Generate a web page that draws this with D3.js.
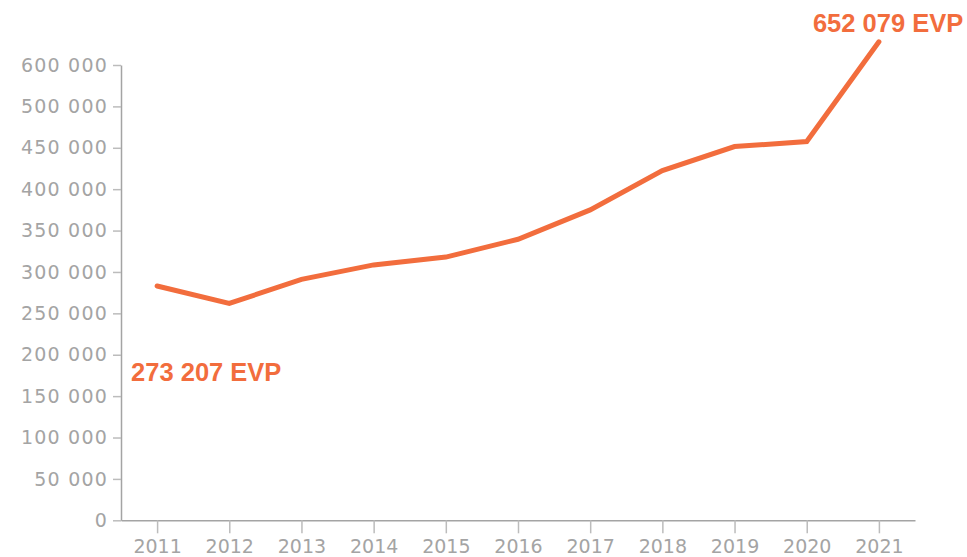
<!DOCTYPE html>
<html>
<head>
<meta charset="utf-8">
<script src="https://cdn.jsdelivr.net/npm/d3@7"></script>
<style>
  body { margin: 0; background: #fff; }
  .tick text { font-family: "DejaVu Sans", sans-serif; fill: #a4a4a4; }
  .evp { font-family: "Liberation Sans", Arial, sans-serif; font-weight: bold; fill: #f26d3d; }
</style>
</head>
<body>
<svg id="chart" width="967" height="557"></svg>
<script>
var years = ['2011','2012','2013','2014','2015','2016','2017','2018','2019','2020','2021'];
var evp = [283000, 262000, 291000, 308500, 318000, 339500, 375000, 422500, 451500, 457500, 578000];
var yTicks = [0, 50000, 100000, 150000, 200000, 250000, 300000, 350000, 400000, 450000, 500000, 550000];
var yTickLabels = ['0','50 000','100 000','150 000','200 000','250 000','300 000','350 000','400 000','450 000','500 000','600 000'];
var callouts = [
  {i: 0, text: '273 207 EVP'},
  {i: 10, text: '652 079 EVP'}
];

var svg = d3.select('#chart');
var plotLeft = 121, plotRight = 915, plotTop = 65, plotBottom = 520.3;
var orange = '#f26d3d', grey = '#a4a4a4';

var x = d3.scalePoint().domain(years).range([plotLeft, plotRight]).padding(0.5);
var y = d3.scaleLinear().domain([0, 550000]).range([plotBottom, plotTop]);

// axes
var yAxis = svg.append('g')
  .attr('transform', 'translate(' + plotLeft + ',0)')
  .call(d3.axisLeft(y).tickValues(yTicks).tickSize(8).tickSizeOuter(0).tickPadding(5)
    .tickFormat(function(d, i) { return yTickLabels[i]; }));
yAxis.selectAll('.tick text').attr('font-size', 19).attr('letter-spacing', '1.2px');

var xAxis = svg.append('g')
  .attr('transform', 'translate(0,' + plotBottom + ')')
  .call(d3.axisBottom(x).tickSize(13).tickSizeOuter(0).tickPadding(6));
xAxis.selectAll('.tick text').attr('font-size', 19);

svg.selectAll('.domain').attr('stroke', grey).attr('stroke-width', 1.5);
svg.selectAll('.tick line').attr('stroke', '#bcbcbc').attr('stroke-width', 1.5);

// line
var line = d3.line()
  .x(function(d, i) { return x(years[i]); })
  .y(function(d) { return y(d); });

svg.append('path')
  .datum(evp)
  .attr('d', line)
  .attr('fill', 'none')
  .attr('stroke', orange)
  .attr('stroke-width', 5)
  .attr('stroke-linecap', 'round')
  .attr('stroke-linejoin', 'miter');

// callout labels
var labelPos = [{dx: -26, y: 381}, {dx: -66, y: 32}];
svg.selectAll('text.evp')
  .data(callouts)
  .enter().append('text')
  .attr('class', 'evp')
  .attr('x', function(d, k) { return x(years[d.i]) + labelPos[k].dx; })
  .attr('y', function(d, k) { return labelPos[k].y; })
  .attr('font-size', 25.5)
  .text(function(d) { return d.text; });
</script>
</body>
</html>
